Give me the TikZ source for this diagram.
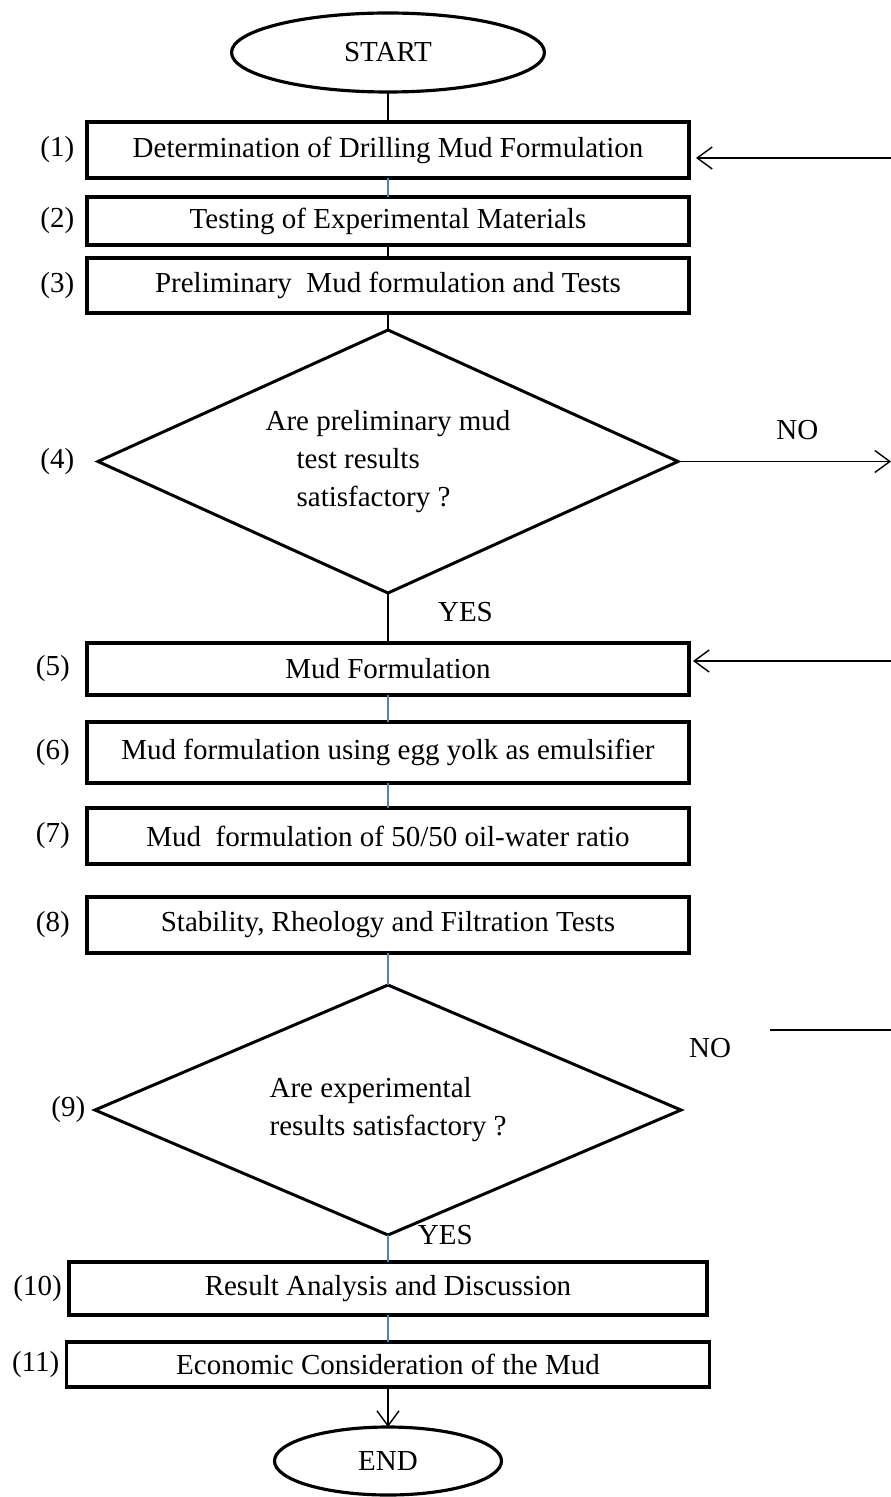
\documentclass[tikz,border=0pt]{standalone}
\usepackage{fontspec}
\setmainfont{Liberation Serif}
\usetikzlibrary{positioning,shapes.geometric,arrows.meta}
\definecolor{linkblue}{HTML}{4F81BD}

\begin{document}
\begin{tikzpicture}[>={Straight Barb[length=3mm,width=4.4mm]},
        font=\fontsize{16.5}{21.6}\selectfont,
        stepbox/.style={draw,line width=2pt,minimum width=12.04cm,inner sep=0pt,outer sep=0pt},
        term/.style={draw,ellipse,line width=1.8pt,inner sep=0pt,outer sep=0pt},
        decision/.style={draw,diamond,line width=1.7pt,aspect=2.2,inner sep=0pt,outer sep=0pt,align=left},
        flow/.style={line width=0.8pt},
        blueflow/.style={linkblue,line width=0.6pt}]
        \useasboundingbox (0,0) rectangle (17.82,-29.94);
        \coordinate (rim) at (17.82,0);
        \node[term,minimum width=6.26cm,minimum height=1.58cm] (start) at (7.76,-1.05) {START};
        \node[stepbox,minimum height=1.12cm,below=0.6cm of start,label={[label distance=0.13cm]left:(1)}] (determine) {Determination of Drilling Mud Formulation};
        \node[stepbox,minimum height=0.96cm,below=0.38cm of determine,label={[label distance=0.13cm]left:(2)}] (testing) {Testing of Experimental Materials};
        \node[stepbox,minimum height=1.1cm,below=0.26cm of testing,label={[label distance=0.13cm]left:(3)}] (prelim) {Preliminary\ \ Mud formulation and Tests};
        \node[decision,minimum width=11.6cm,minimum height=5.26cm,below=0.34cm of prelim,label={[label distance=0.35cm]left:(4)}] (check4) {Are preliminary mud\\\hspace*{0.62cm}test results\\\hspace*{0.62cm}satisfactory ?};
        \node[stepbox,minimum height=1.04cm,below=1.0cm of check4,label={[label distance=0.22cm]left:(5)}] (mudform) {Mud Formulation};
        \node[stepbox,minimum height=1.22cm,below=0.54cm of mudform,label={[label distance=0.22cm]left:(6)}] (eggyolk) {Mud formulation using egg yolk as emulsifier};
        \node[stepbox,minimum height=1.12cm,below=0.5cm of eggyolk,label={[label distance=0.22cm]left:(7)}] (ratio) {Mud\ \ formulation of 50/50 oil-water ratio};
        \node[stepbox,minimum height=1.12cm,below=0.66cm of ratio,label={[label distance=0.22cm]left:(8)}] (stability) {Stability, Rheology and Filtration Tests};
        \node[decision,minimum width=11.72cm,minimum height=5.0cm,below=0.64cm of stability,label={[label distance=0.07cm]left:(9)}] (check9) {Are experimental\\results satisfactory ?};
        \node[stepbox,minimum width=12.76cm,minimum height=1.06cm,below=0.54cm of check9,label={[label distance=0.02cm]left:(10)}] (analysis) {Result Analysis and Discussion};
        \node[stepbox,minimum width=12.86cm,minimum height=0.9cm,below=0.54cm of analysis,label={[label distance=0.02cm]left:(11)}] (economic) {Economic Consideration of the Mud};
        \node[term,minimum width=4.54cm,minimum height=1.36cm,below=0.8cm of economic] (stop) {END};
        \draw[flow] (start) -- (determine);
        \draw[blueflow] (determine) -- (testing);
        \draw[flow] (testing) -- (prelim);
        \draw[flow] (prelim) -- (check4);
        \draw[flow] (check4) -- node[pos=0.38,right=0.87cm]{YES} (mudform);
        \draw[blueflow] (mudform) -- (eggyolk);
        \draw[blueflow] (eggyolk) -- (ratio);
        \draw[blueflow] (stability) -- (check9);
        \draw[blueflow] (check9) -- node[pos=0,right=0.47cm,text=black]{YES} (analysis);
        \draw[blueflow] (analysis) -- (economic);
        \draw[->,flow] (economic) -- (stop);
        % returns to the right edge
        \draw[->,flow] (check4.east) -- node[pos=0.56,above=0.3cm]{NO} (check4.east -| rim);
        \coordinate (back1) at ([yshift=-0.16cm]determine.east -| rim);
        \draw[->,flow,shorten >=0.14cm] (back1) -- (back1 -| determine.east);
        \coordinate (back5) at ([yshift=0.16cm]mudform.east -| rim);
        \draw[->,flow,shorten >=0.08cm] (back5) -- (back5 -| mudform.east);
        \node (no9) at (14.2,-20.96) {NO};
        \coordinate (loose9) at (15.4,-20.6);
        \draw[flow] (loose9) -- (loose9 -| rim);
    \end{tikzpicture}
\end{document}
